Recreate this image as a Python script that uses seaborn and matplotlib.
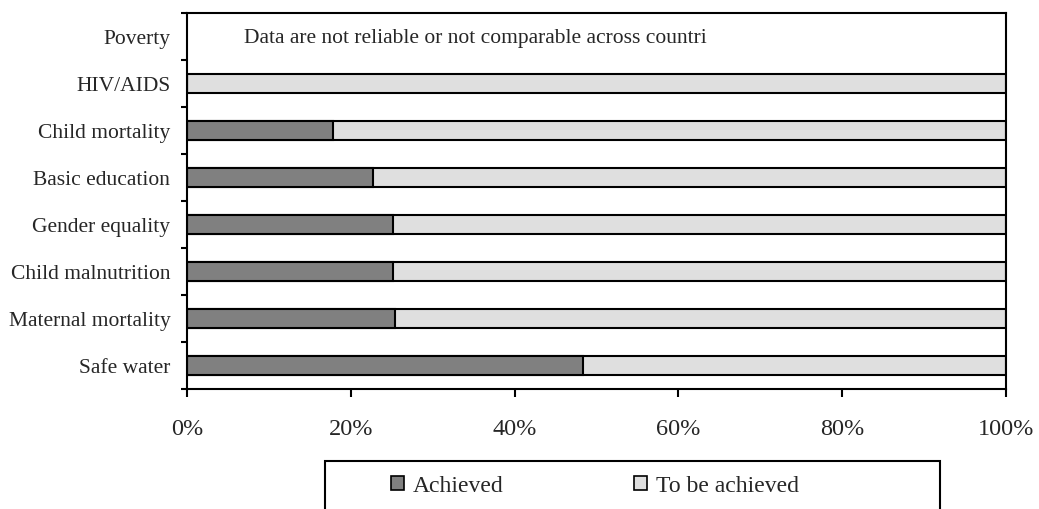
import numpy as np
import pandas as pd
import seaborn as sns
import matplotlib.pyplot as plt
from matplotlib.patches import Patch, Rectangle

# goals, top to bottom
goals = ['Poverty', 'HIV/AIDS', 'Child mortality', 'Basic education',
         'Gender equality', 'Child malnutrition', 'Maternal mortality', 'Safe water']
# share of the target already achieved (Poverty: no reliable data)
achieved = [np.nan, 0.0, 0.178, 0.227, 0.251, 0.251, 0.254, 0.483]
total = [np.nan, 1.0, 1.0, 1.0, 1.0, 1.0, 1.0, 1.0]
note = 'Data are not reliable or not comparable across countri'
x_ticks = [0, 0.2, 0.4, 0.6, 0.8, 1.0]
x_labels = ['0%', '20%', '40%', '60%', '80%', '100%']

df = pd.DataFrame({'goal': goals, 'achieved': achieved, 'total': total})

sns.set_style('white')
plt.rcParams['font.family'] = ['Liberation Serif', 'DejaVu Serif']

fig = plt.figure(figsize=(10.39, 5.1), dpi=100)
ax = fig.add_axes([187 / 1039, 120 / 510, 819 / 1039, 376 / 510])

dark = '#808080'
light = '#dfdfdf'
sns.barplot(data=df, y='goal', x='total', order=goals, color=light, width=0.4,
            edgecolor='black', linewidth=1.5, saturation=1, ax=ax, orient='h')
sns.barplot(data=df, y='goal', x='achieved', order=goals, color=dark, width=0.4,
            edgecolor='black', linewidth=1.5, saturation=1, ax=ax, orient='h')

ax.text(0.07, 0.02, note, fontsize=15.5, va='center', ha='left')

ax.set_xlim(0, 1)
ax.set_ylim(len(goals) - 0.5, -0.5)
ax.set_xticks(x_ticks)
ax.set_xticklabels(x_labels, fontsize=17.5)
ax.set_yticks(range(len(goals)))
ax.set_yticklabels(goals, fontsize=15.5)
ax.set_yticks(np.arange(-0.5, len(goals), 1), minor=True)
ax.tick_params(axis='y', which='major', length=0, pad=12)
ax.tick_params(axis='y', which='minor', left=True, length=4.5, width=1.5, color='black')
ax.tick_params(axis='x', which='major', bottom=True, length=6, width=1.5, pad=15, color='black')
ax.set_xlabel('')
ax.set_ylabel('')
for s in ax.spines.values():
    s.set_visible(True)
    s.set_color('black')
    s.set_linewidth(1.5)

# legend box runs off the bottom of the picture
fig.patches.append(Rectangle((325 / 1039, -0.1), 615 / 1039, 0.1 + 48 / 510,
                             transform=fig.transFigure, fill=False,
                             edgecolor='black', linewidth=1.5))
handles = [Patch(facecolor=dark, edgecolor='black', linewidth=1.2, label='Achieved'),
           Patch(facecolor=light, edgecolor='black', linewidth=1.2, label='To be achieved')]
fig.legend(handles=handles, loc='center', bbox_to_anchor=(595 / 1039, 23 / 510),
           ncol=2, frameon=False, fontsize=17, handlelength=0.55, handleheight=0.55,
           handletextpad=0.38, columnspacing=5.5)

fig.savefig('out.png', dpi=100)
